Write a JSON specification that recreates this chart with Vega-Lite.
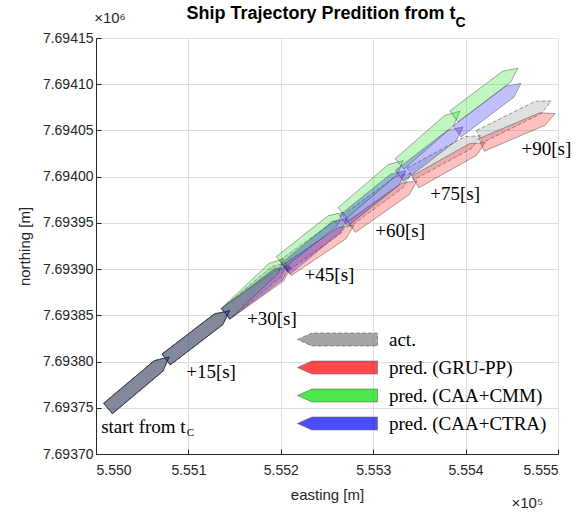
{
  "$schema": "https://vega.github.io/schema/vega-lite/v6.json",
  "width": 462,
  "height": 416,
  "autosize": {"type": "none"},
  "padding": {"left": 96, "top": 38, "right": 21, "bottom": 59},
  "background": "white",
  "title": {
    "text": "Ship Trajectory Predition from t",
    "font": "Liberation Sans",
    "fontSize": 18,
    "fontWeight": "bold",
    "color": "black",
    "anchor": "middle",
    "frame": "group",
    "baseline": "alphabetic",
    "dx": -6,
    "dy": 26,
    "offset": 0
  },
  "config": {
    "view": {"stroke": null},
    "axis": {
      "domainColor": "#262626",
      "domainWidth": 1,
      "tickColor": "#262626",
      "tickSize": -5,
      "labelFont": "Liberation Sans",
      "labelFontSize": 14,
      "labelColor": "#262626",
      "labelPadding": 8,
      "titleFont": "Liberation Sans",
      "titleFontSize": 15,
      "titleFontWeight": "normal",
      "titleColor": "#262626",
      "gridColor": "#dedede",
      "gridWidth": 1
    },
    "axisX": {"labelPadding": 14, "titlePadding": 10},
    "axisY": {"titlePadding": 10}
  },
  "datasets": {
    "ships": [
      {"series": "act.", "t": 0, "easting": 555046.1, "northing": 7693777.1, "course": 49.9},
      {"series": "act.", "t": 15, "easting": 555110.3, "northing": 7693828.6, "course": 52.5},
      {"series": "act.", "t": 30, "easting": 555173.7, "northing": 7693879.3, "course": 50.4},
      {"series": "act.", "t": 45, "easting": 555238.2, "northing": 7693928.6, "course": 54.5},
      {"series": "act.", "t": 60, "easting": 555306.0, "northing": 7693977.8, "course": 53.7},
      {"series": "act.", "t": 75, "easting": 555378.4, "northing": 7694023.6, "course": 61.6},
      {"series": "act.", "t": 90, "easting": 555453.8, "northing": 7694062.6, "course": 63.6},
      {"series": "pred. (GRU-PP)", "t": 0, "easting": 555046.1, "northing": 7693777.1, "course": 49.9},
      {"series": "pred. (GRU-PP)", "t": 15, "easting": 555110.3, "northing": 7693828.6, "course": 52.5},
      {"series": "pred. (GRU-PP)", "t": 30, "easting": 555175.7, "northing": 7693876.8, "course": 54.7},
      {"series": "pred. (GRU-PP)", "t": 45, "easting": 555243.2, "northing": 7693923.3, "course": 56.1},
      {"series": "pred. (GRU-PP)", "t": 60, "easting": 555311.9, "northing": 7693970.6, "course": 54.9},
      {"series": "pred. (GRU-PP)", "t": 75, "easting": 555383.5, "northing": 7694015.6, "course": 60.7},
      {"series": "pred. (GRU-PP)", "t": 90, "easting": 555457.1, "northing": 7694051.3, "course": 67.0},
      {"series": "pred. (CAA+CMM)", "t": 0, "easting": 555046.1, "northing": 7693777.1, "course": 49.9},
      {"series": "pred. (CAA+CMM)", "t": 15, "easting": 555110.3, "northing": 7693828.6, "course": 52.5},
      {"series": "pred. (CAA+CMM)", "t": 30, "easting": 555171.8, "northing": 7693881.5, "course": 46.6},
      {"series": "pred. (CAA+CMM)", "t": 45, "easting": 555233.7, "northing": 7693934.6, "course": 51.7},
      {"series": "pred. (CAA+CMM)", "t": 60, "easting": 555299.6, "northing": 7693989.1, "course": 49.3},
      {"series": "pred. (CAA+CMM)", "t": 75, "easting": 555361.1, "northing": 7694042.3, "course": 48.9},
      {"series": "pred. (CAA+CMM)", "t": 90, "easting": 555422.0, "northing": 7694091.3, "course": 53.0},
      {"series": "pred. (CAA+CTRA)", "t": 0, "easting": 555046.1, "northing": 7693777.1, "course": 49.9},
      {"series": "pred. (CAA+CTRA)", "t": 15, "easting": 555110.3, "northing": 7693828.6, "course": 52.5},
      {"series": "pred. (CAA+CTRA)", "t": 30, "easting": 555175.0, "northing": 7693877.7, "course": 53.2},
      {"series": "pred. (CAA+CTRA)", "t": 45, "easting": 555238.4, "northing": 7693927.8, "course": 50.4},
      {"series": "pred. (CAA+CTRA)", "t": 60, "easting": 555301.6, "northing": 7693979.3, "course": 51.2},
      {"series": "pred. (CAA+CTRA)", "t": 75, "easting": 555362.8, "northing": 7694027.3, "course": 52.4},
      {"series": "pred. (CAA+CTRA)", "t": 90, "easting": 555425.3, "northing": 7694074.9, "course": 53.0}
    ],
    "stepLabels": [
      {"label": "+15[s]", "easting": 555124.5, "northing": 7693782.3},
      {"label": "+30[s]", "easting": 555190.3, "northing": 7693839.6},
      {"label": "+45[s]", "easting": 555252.7, "northing": 7693887.6},
      {"label": "+60[s]", "easting": 555329.2, "northing": 7693934.3},
      {"label": "+75[s]", "easting": 555388.7, "northing": 7693974.9},
      {"label": "+90[s]", "easting": 555487.5, "northing": 7694023.6},
      {"label": "start from t", "easting": 555051.3, "northing": 7693722.7}
    ],
    "startSubscript": [
      {"label": "C", "easting": 555102.3, "northing": 7693719.5}
    ],
    "titleSubscript": [
      {"label": "C", "easting": 555389.0, "northing": 7694162.1}
    ],
    "exponents": [
      {"label": "×10⁶", "easting": 554998.0, "northing": 7694166.0},
      {"label": "×10⁵", "easting": 555449.7, "northing": 7693641.6}
    ]
  },
  "encoding": {
    "x": {
      "field": "easting",
      "type": "quantitative",
      "scale": {"domain": [555000, 555500], "nice": false, "zero": false},
      "axis": {
        "title": "easting [m]",
        "values": [555000, 555100, 555200, 555300, 555400, 555500],
        "labelExpr": "format(datum.value / 100000, '.3f')"
      }
    },
    "y": {
      "field": "northing",
      "type": "quantitative",
      "scale": {"domain": [7693700, 7694150], "nice": false, "zero": false},
      "axis": {
        "title": "northing [m]",
        "values": [7693700, 7693750, 7693800, 7693850, 7693900, 7693950, 7694000, 7694050, 7694100, 7694150],
        "labelExpr": "format(datum.value / 1000000, '.5f')"
      }
    }
  },
  "layer": [
    {
      "data": {"name": "ships"},
      "mark": {
        "type": "point",
        "shape": "M-0.17,1L-0.17,-0.65L0,-1L0.17,-0.65L0.17,1Z",
        "size": 6400,
        "filled": true,
        "stroke": "#2b2b2b",
        "strokeWidth": 0.7,
        "strokeOpacity": 0.85
      },
      "encoding": {
        "angle": {"field": "course", "type": "quantitative", "scale": null},
        "fill": {
          "field": "series",
          "type": "nominal",
          "scale": {
            "domain": ["act.", "pred. (GRU-PP)", "pred. (CAA+CMM)", "pred. (CAA+CTRA)"],
            "range": ["#808080", "#ff0000", "#00e000", "#0000ff"]
          },
          "legend": {
            "title": null,
            "orient": "none",
            "legendX": 200,
            "legendY": 292,
            "padding": 0,
            "symbolType": "M-1,0L0.8,-0.8L9,-0.8L9,0.8L0.8,0.8Z",
            "symbolSize": 256,
            "symbolStrokeColor": "#2b2b2b",
            "symbolStrokeWidth": 0.7,
            "labelFont": "Liberation Serif",
            "labelFontSize": 19,
            "labelColor": "black",
            "labelOffset": 74,
            "labelLimit": 300,
            "rowPadding": 8
          }
        },
        "fillOpacity": {
          "field": "series",
          "type": "nominal",
          "scale": {
            "domain": ["act.", "pred. (GRU-PP)", "pred. (CAA+CMM)", "pred. (CAA+CTRA)"],
            "range": [0.35, 0.35, 0.35, 0.35]
          },
          "legend": {"title": null}
        },
        "strokeDash": {
          "field": "series",
          "type": "nominal",
          "scale": {
            "domain": ["act.", "pred. (GRU-PP)", "pred. (CAA+CMM)", "pred. (CAA+CTRA)"],
            "range": [[4, 2], [1, 0], [1, 0], [1, 0]]
          },
          "legend": {"title": null}
        }
      }
    },
    {
      "data": {"name": "stepLabels"},
      "mark": {"type": "text", "font": "Liberation Serif", "fontSize": 19, "align": "center", "baseline": "alphabetic", "color": "black"},
      "encoding": {"text": {"field": "label", "type": "nominal"}}
    },
    {
      "data": {"name": "startSubscript"},
      "mark": {"type": "text", "font": "Liberation Serif", "fontSize": 11, "align": "center", "baseline": "alphabetic", "color": "black"},
      "encoding": {"text": {"field": "label", "type": "nominal"}}
    },
    {
      "data": {"name": "titleSubscript"},
      "mark": {"type": "text", "font": "Liberation Sans", "fontSize": 14, "fontWeight": "bold", "align": "left", "baseline": "alphabetic", "color": "black"},
      "encoding": {"text": {"field": "label", "type": "nominal"}}
    },
    {
      "data": {"name": "exponents"},
      "mark": {"type": "text", "font": "Liberation Sans", "fontSize": 15, "align": "left", "baseline": "alphabetic", "color": "#262626"},
      "encoding": {"text": {"field": "label", "type": "nominal"}}
    }
  ]
}
